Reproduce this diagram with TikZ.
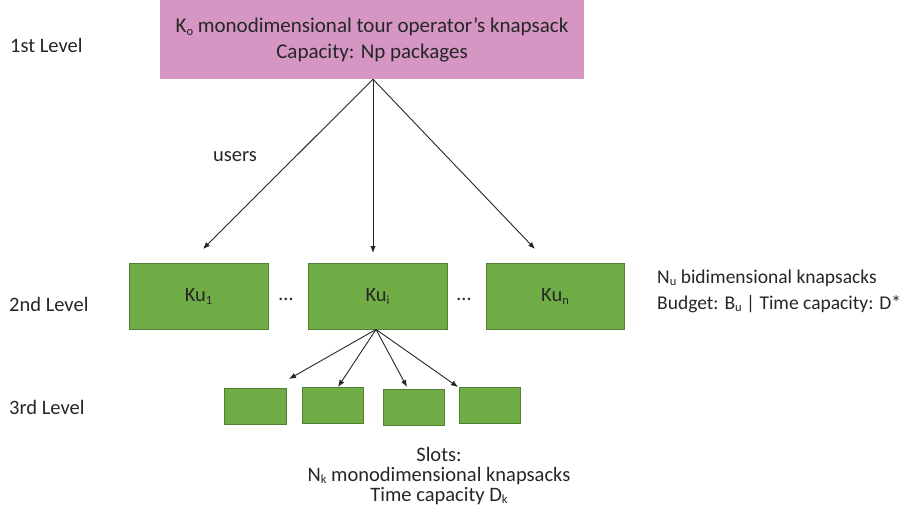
\documentclass[tikz,border=0pt]{standalone}
\usepackage{fontspec}
\setmainfont{Carlito}
\usetikzlibrary{arrows.meta}
\definecolor{pinkfill}{RGB}{213,150,196}
\definecolor{greenfill}{RGB}{112,173,71}
\definecolor{greenline}{RGB}{80,126,50}
\definecolor{txt}{RGB}{38,38,38}
\newcommand{\lsub}[1]{\raisebox{-0.3ex}{\fontsize{12.5}{12.5}\selectfont #1}}
\begin{document}
\begin{tikzpicture}[x=1pt,y=-1pt,
  every node/.style={text=txt,font=\fontsize{20.5}{25}\selectfont,inner sep=0pt},
  sidetext/.style={anchor=base west,font=\fontsize{19.5}{24}\selectfont},
  pinkbox/.style={fill=pinkfill,draw=none,minimum width=424pt,minimum height=79pt,align=center,font=\fontsize{21}{26}\selectfont},
  kubox/.style={fill=greenfill,draw=greenline,line width=0.9pt,minimum width=139pt,minimum height=66pt},
  slotbox/.style={fill=greenfill,draw=greenline,line width=0.9pt,minimum width=61pt,minimum height=36pt},
  arr/.style={draw=black!85,line width=0.9pt,-{Latex[length=7pt,width=5.5pt]}}]
\useasboundingbox (0,0) rectangle (911,524);
% first level
\node[pinkbox] (ko) at (372,39.5) {K\lsub{o} monodimensional tour operator’s knapsack\\Capacity: Np packages};
% second level
\node[kubox] (ku1) at (198.5,296) {Ku\lsub{1}};
\node[kubox] (kui) at (377.5,296) {Ku\lsub{i}};
\node[kubox,minimum width=138pt] (kun) at (555,296) {Ku\lsub{n}};
\node[anchor=base] (dots1) at (286,300) {…};
\node[anchor=base] (dots2) at (464,300) {…};
% third level
\node[slotbox,minimum width=62pt] (s1) at (255,406) {};
\node[slotbox] (s2) at (332.5,405) {};
\node[slotbox] (s3) at (413.5,407) {};
\node[slotbox] (s4) at (489.5,405.5) {};
% level labels
\node[anchor=base west] (l1) at (10,53) {1st Level};
\node[anchor=base west] (l2) at (9,311) {2nd Level};
\node[anchor=base west] (l3) at (9,414) {3rd Level};
% other labels
\node[anchor=base west] (users) at (213,162) {users};
\node[sidetext] (nu) at (657,283) {N\lsub{u} bidimensional knapsacks};
\node[sidetext] (budget) at (657,309) {Budget: B\lsub{u} | Time capacity: D*};
\node[anchor=base] (slots1) at (439,461) {Slots:};
\node[anchor=base] (slots2) at (439,481) {N\lsub{k} monodimensional knapsacks};
\node[anchor=base] (slots3) at (439,501) {Time capacity D\lsub{k}};
% arrow ends
\coordinate (e1) at (203,249);
\coordinate (e2) at (373,253);
\coordinate (e3) at (535,249);
\coordinate (f1) at (289,379);
\coordinate (f2) at (338,387);
\coordinate (f3) at (407,387);
\coordinate (f4) at (458,387);
\draw[arr] (ko.south) ++(1,0) coordinate (ko0) -- (e1);
\draw[arr] (ko0) -- (e2);
\draw[arr] (ko0) -- (e3);
\draw[arr] (kui.south) ++(-1.5,0) coordinate (kui0) -- (f1);
\draw[arr] (kui0) -- (f2);
\draw[arr] (kui0) -- (f3);
\draw[arr] (kui0) -- (f4);
\end{tikzpicture}
\end{document}
